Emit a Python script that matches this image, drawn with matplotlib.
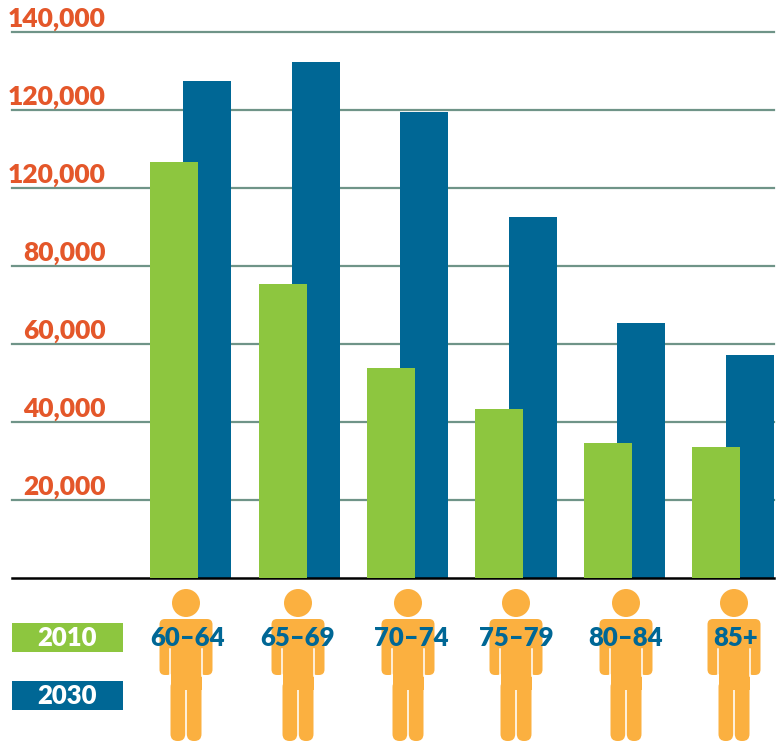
import matplotlib
matplotlib.use('Agg')
import matplotlib.pyplot as plt
from matplotlib.patches import Circle, FancyBboxPatch, Rectangle

plt.rcParams['font.family'] = ['Lato', 'DejaVu Sans']

ages = ['60–64', '65–69', '70–74', '75–79', '80–84', '85+']
y2010 = [106700, 75400, 53800, 43300, 34700, 33600]
y2030 = [127400, 132300, 119500, 92500, 65400, 57200]
ticks = [20000, 40000, 60000, 80000, 100000, 120000, 140000]
# the source really does print 120,000 twice
tick_labels = ['20,000', '40,000', '60,000', '80,000', '120,000', '120,000', '140,000']

GREEN = '#8dc63f'
BLUE = '#006795'
ORANGE = '#e4572a'
PERSON = '#fbb040'
W, H = 776, 742

fig = plt.figure(figsize=(W / 100, H / 100), dpi=100)

# main axes, placed in pixels
left, right, top, bottom = 12, 774, 32, 578
ax = fig.add_axes([left / W, 1 - bottom / H, (right - left) / W, (bottom - top) / H])
step = 108.5
ax.set_xlim((left - 174) / step, (right - 174) / step)
ax.set_ylim(0, 140000)

xs = list(range(len(ages)))
ax.bar([x + 33 / step for x in xs], y2030, width=48 / step, color=BLUE, zorder=2)
ax.bar(xs, y2010, width=48 / step, color=GREEN, zorder=3)

for t, lab in zip(ticks, tick_labels):
    ax.axhline(t, color='#6f9488', lw=1.6, zorder=1, clip_on=False)
    ax.annotate(lab, xy=(105.5, t), xycoords=('figure pixels', 'data'), xytext=(0, 0.8),
                textcoords='offset points', ha='right', va='bottom',
                color=ORANGE, fontsize=19, fontweight='heavy', annotation_clip=False)

for s in ['top', 'left', 'right']:
    ax.spines[s].set_visible(False)
ax.spines['bottom'].set_color('black')
ax.spines['bottom'].set_linewidth(1.8)
ax.set_xticks([])
ax.set_yticks([])
ax.patch.set_visible(False)

# overlay for legend and people, pixel coordinates
ov = fig.add_axes([0, 0, 1, 1], zorder=5)
ov.set_xlim(0, W)
ov.set_ylim(H, 0)
ov.axis('off')


def rounded(ov, x, y, w, h, r):
    ov.add_patch(FancyBboxPatch((x, y), w, h, boxstyle=f'round,pad=0,rounding_size={r}',
                                color=PERSON, lw=0))


def person(ov, cx):
    ov.add_patch(Circle((cx, 603), 14, color=PERSON, lw=0))
    # arms
    rounded(ov, cx - 26.5, 619, 13, 56, 5.5)
    rounded(ov, cx + 13.5, 619, 13, 56, 5.5)
    # shoulders, torso, legs
    ov.add_patch(Rectangle((cx - 20, 619), 40, 30, color=PERSON, lw=0))
    ov.add_patch(Rectangle((cx - 15.5, 640), 31, 50, color=PERSON, lw=0))
    rounded(ov, cx - 15.5, 680, 14.7, 61, 7)
    rounded(ov, cx + 0.8, 680, 14.7, 61, 7)
    # thin white slits beside the arms
    ov.plot([cx - 16.3, cx - 16.3], [649, 676], color='white', lw=1.1)
    ov.plot([cx + 16.3, cx + 16.3], [649, 676], color='white', lw=1.1)


people_x = [186, 298, 408, 516, 626, 734]
label_x = [188, 298, 411, 516, 626, 736]
for px, lx, a in zip(people_x, label_x, ages):
    person(ov, px)
    ov.text(lx, 637.5, a, ha='center', va='center', color=BLUE, fontsize=18.5,
            fontweight='heavy', zorder=6)

# legend boxes
for y0, col, lab in [(623, GREEN, '2010'), (681, BLUE, '2030')]:
    ov.add_patch(Rectangle((12, y0), 111, 29, color=col, lw=0))
    ov.text(67.5, y0 + 14.5, lab, ha='center', va='center', color='white',
            fontsize=18.5, fontweight='heavy')

fig.savefig('out.png', dpi=100)
